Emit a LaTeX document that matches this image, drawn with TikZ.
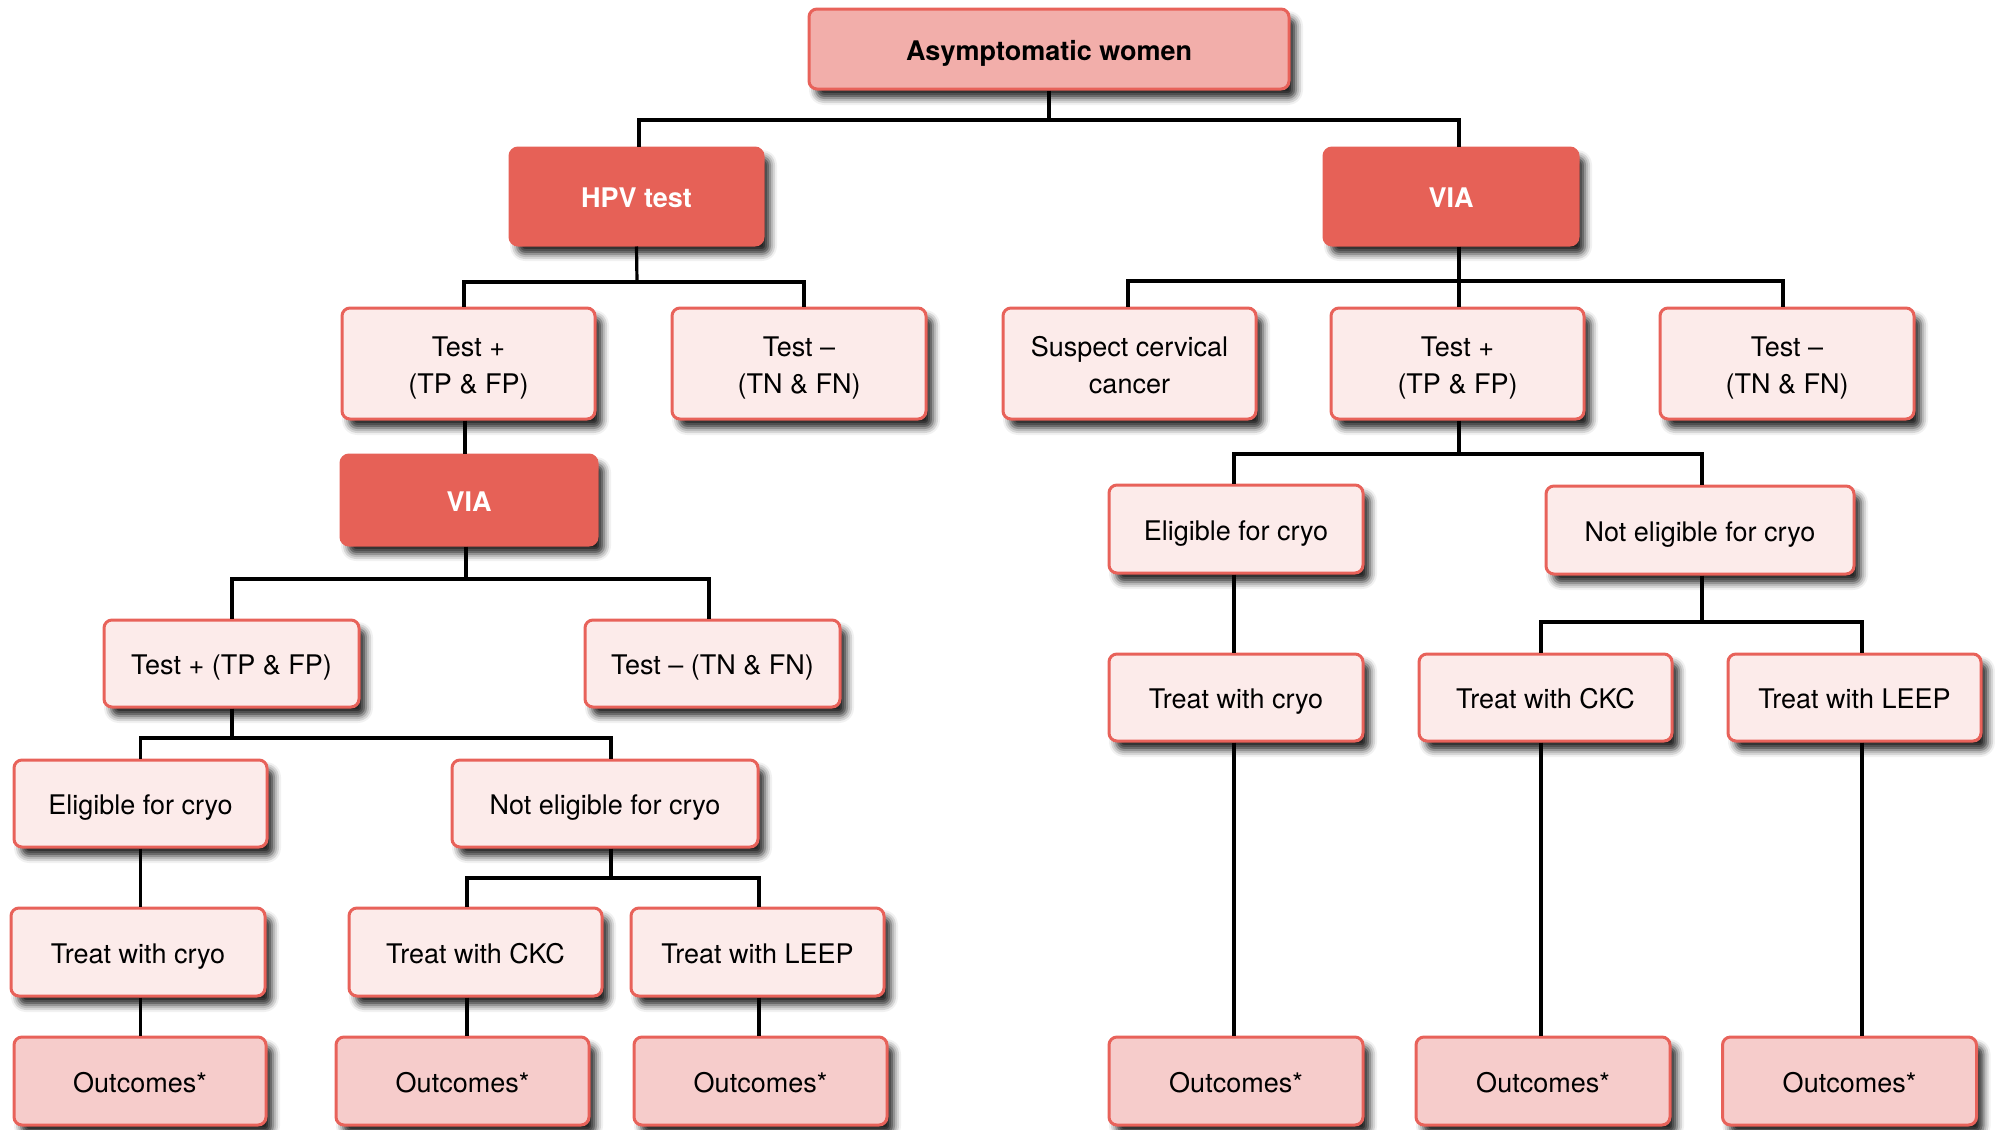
\documentclass[tikz,border=0pt]{standalone}
\usepackage{fontspec}
\setmainfont{TeX Gyre Heros}
\usetikzlibrary{shadows.blur}
\definecolor{topfill}{HTML}{F2AEAA}
\definecolor{redline}{HTML}{E8625A}
\definecolor{darkfill}{HTML}{E66157}
\definecolor{lightfill}{HTML}{FCEBEA}
\definecolor{outfill}{HTML}{F6CCCB}
\newcommand{\topstrut}{\rule{0pt}{29pt}}
\newcommand{\botstrut}{\rule[-6pt]{0pt}{6pt}}
\tikzset{
  boxbase/.style={rectangle, rounded corners=8pt, inner sep=0pt, align=center,
    font=\fontsize{27}{37}\selectfont, line width=3pt, text height=22pt, text depth=0pt,
    blur shadow={shadow xshift=7pt, shadow yshift=-9pt, shadow blur radius=7pt, shadow opacity=85}},
  twolines/.style={text height={}, text depth={}},
  topbox/.style={boxbase, fill=topfill, draw=redline, font=\fontsize{27}{37}\selectfont\bfseries},
  darkbox/.style={boxbase, fill=darkfill, draw=darkfill, text=white, font=\fontsize{27}{37}\selectfont\bfseries},
  lightbox/.style={boxbase, fill=lightfill, draw=redline},
  outbox/.style={boxbase, fill=outfill, draw=redline},
  conn/.style={draw=black, line width=3.2pt}
}
\begin{document}
\begin{tikzpicture}[x=1pt,y=-1pt]
\useasboundingbox (0,0) rectangle (1995,1130);
% top levels
\node[topbox, minimum width=480pt, minimum height=80pt] (top) at (1049,49) {Asymptomatic women};
\node[darkbox, minimum width=253pt, minimum height=97pt] (hpv) at (636.5,196.5) {HPV test};
\node[darkbox, minimum width=254pt, minimum height=97pt] (viaR) at (1451,196.5) {VIA};
% level 2
\node[lightbox, twolines, minimum width=253pt, minimum height=111pt] (tpL) at (468.5,363.5) {\topstrut Test +\\(TP \& FP)\botstrut};
\node[lightbox, twolines, minimum width=254pt, minimum height=111pt] (tnL) at (799,363.5) {\topstrut Test –\\(TN \& FN)\botstrut};
\node[lightbox, twolines, minimum width=253pt, minimum height=111pt] (susp) at (1129.5,363.5) {\topstrut Suspect cervical\\cancer\botstrut};
\node[lightbox, twolines, minimum width=253pt, minimum height=111pt] (tpR) at (1457.5,363.5) {\topstrut Test +\\(TP \& FP)\botstrut};
\node[lightbox, twolines, minimum width=254pt, minimum height=111pt] (tnR) at (1787,363.5) {\topstrut Test –\\(TN \& FN)\botstrut};
% left branch
\node[darkbox, minimum width=256pt, minimum height=90pt] (viaL) at (469,500) {VIA};
\node[lightbox, minimum width=255pt, minimum height=87pt] (tp2) at (231.5,663.5) {Test + (TP \& FP)};
\node[lightbox, minimum width=255pt, minimum height=87pt] (tn2) at (712.5,663.5) {Test – (TN \& FN)};
\node[lightbox, minimum width=253pt, minimum height=87pt] (eligL) at (140.5,803.5) {Eligible for cryo};
\node[lightbox, minimum width=306pt, minimum height=87pt] (neligL) at (605,803.5) {Not eligible for cryo};
\node[lightbox, minimum width=254pt, minimum height=88pt] (cryoL) at (138,952) {Treat with cryo};
\node[lightbox, minimum width=253pt, minimum height=88pt] (ckcL) at (475.5,952) {Treat with CKC};
\node[lightbox, minimum width=253pt, minimum height=88pt] (leepL) at (757.5,952) {Treat with LEEP};
\node[outbox, minimum width=252pt, minimum height=88pt] (outL1) at (140,1081) {Outcomes*};
\node[outbox, minimum width=253pt, minimum height=88pt] (outL2) at (462.5,1081) {Outcomes*};
\node[outbox, minimum width=253pt, minimum height=88pt] (outL3) at (760.5,1081) {Outcomes*};
% right branch
\node[lightbox, minimum width=254pt, minimum height=88pt] (eligR) at (1236,529) {Eligible for cryo};
\node[lightbox, minimum width=308pt, minimum height=88pt] (neligR) at (1700,530) {Not eligible for cryo};
\node[lightbox, minimum width=254pt, minimum height=87pt] (cryoR) at (1236,697.5) {Treat with cryo};
\node[lightbox, minimum width=253pt, minimum height=87pt] (ckcR) at (1545.5,697.5) {Treat with CKC};
\node[lightbox, minimum width=253pt, minimum height=87pt] (leepR) at (1854.5,697.5) {Treat with LEEP};
\node[outbox, minimum width=254pt, minimum height=88pt] (outR1) at (1236,1081) {Outcomes*};
\node[outbox, minimum width=254pt, minimum height=88pt] (outR2) at (1543,1081) {Outcomes*};
\node[outbox, minimum width=254pt, minimum height=88pt] (outR3) at (1849.5,1081) {Outcomes*};
% bus coordinates
\coordinate (b0) at (1049,120);
\coordinate (b1) at (637,282);
\coordinate (b2) at (1459,281);
\coordinate (b3) at (466,579);
\coordinate (b4) at (232,738);
\coordinate (b5) at (611,878);
\coordinate (b6) at (1459,454);
\coordinate (b7) at (1702,622);
% connectors
\draw[conn] (top.south) -- (b0);
\draw[conn] ([xshift=2.5pt]hpv.north) |- (b0) -| ([xshift=8pt]viaR.north);
\draw[conn] (hpv.south) -- (b1);
\draw[conn] ([xshift=-4.5pt]tpL.north) |- (b1) -| ([xshift=5pt]tnL.north);
\draw[conn] ([xshift=8pt]viaR.south) -- (b2);
\draw[conn] ([xshift=-1.5pt]susp.north) |- (b2) -| ([xshift=-4pt]tnR.north);
\draw[conn] (b2) -- ([xshift=1.5pt]tpR.north);
\draw[conn] ([xshift=-3.5pt]tpL.south) -- ([xshift=-4pt]viaL.north);
\draw[conn] ([xshift=-3pt]viaL.south) -- (b3);
\draw[conn] ([xshift=0.5pt]tp2.north) |- (b3) -| ([xshift=-3.5pt]tn2.north);
\draw[conn] ([xshift=0.5pt]tp2.south) -- (b4);
\draw[conn] (eligL.north) |- (b4) -| ([xshift=6pt]neligL.north);
\draw[conn] (eligL.south) -- ([xshift=2.5pt]cryoL.north);
\draw[conn] ([xshift=2.5pt]cryoL.south) -- ([xshift=0.5pt]outL1.north);
\draw[conn] ([xshift=6pt]neligL.south) -- (b5);
\draw[conn] ([xshift=-8.5pt]ckcL.north) |- (b5) -| ([xshift=1.5pt]leepL.north);
\draw[conn] ([xshift=-8.5pt]ckcL.south) -- ([xshift=4.5pt]outL2.north);
\draw[conn] ([xshift=1.5pt]leepL.south) -- ([xshift=-1.5pt]outL3.north);
\draw[conn] ([xshift=1.5pt]tpR.south) -- (b6);
\draw[conn] ([xshift=-2pt]eligR.north) |- (b6) -| ([xshift=2pt]neligR.north);
\draw[conn] ([xshift=-2pt]eligR.south) -- ([xshift=-2pt]cryoR.north);
\draw[conn] ([xshift=-2pt]cryoR.south) -- ([xshift=-2pt]outR1.north);
\draw[conn] ([xshift=2pt]neligR.south) -- (b7);
\draw[conn] ([xshift=-4.5pt]ckcR.north) |- (b7) -| ([xshift=7.5pt]leepR.north);
\draw[conn] ([xshift=-4.5pt]ckcR.south) -- ([xshift=-2pt]outR2.north);
\draw[conn] ([xshift=7.5pt]leepR.south) -- ([xshift=12.5pt]outR3.north);
\end{tikzpicture}
\end{document}
